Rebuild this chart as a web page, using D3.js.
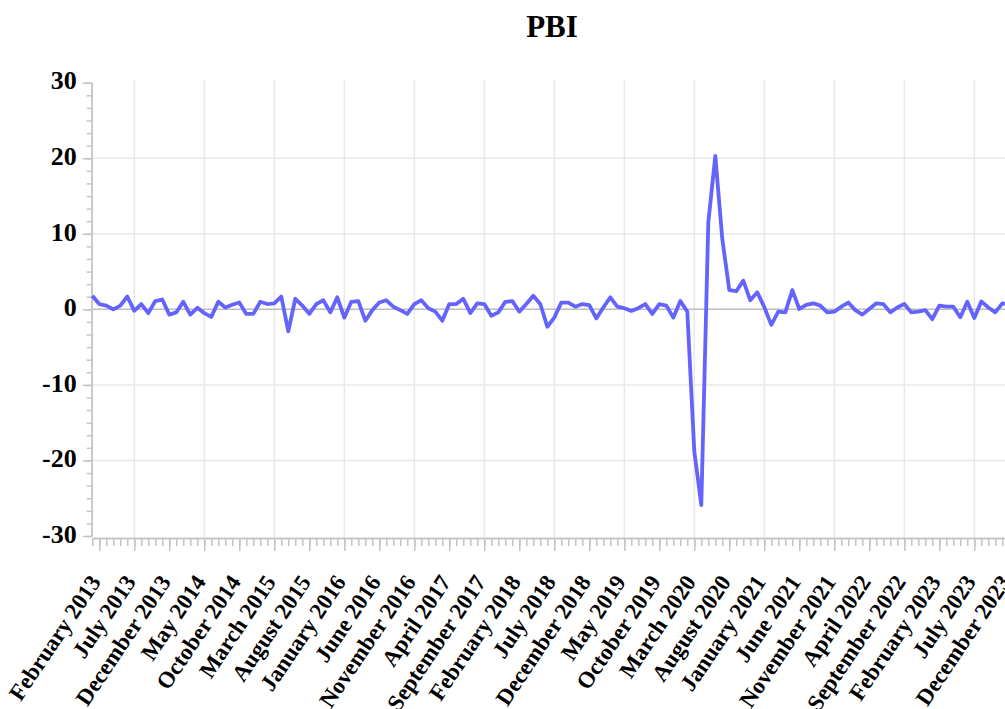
<!DOCTYPE html>
<html>
<head>
<meta charset="utf-8">
<script src="https://cdn.jsdelivr.net/npm/d3@7"></script>
<style>
  body { margin: 0; overflow: hidden; background: #fff; }
  text { font-family: "Liberation Serif", "Times New Roman", serif; font-weight: bold; }
</style>
</head>
<body>
<div id="chart"></div>
<script>

// first month of the series
var startMonth = "2013-01";

// PBI, monthly change
var pbi = [
  1.8, 0.7, 0.5, 0.0, 0.5, 1.7, -0.2, 0.7, -0.5, 1.1, 1.3, -0.7,
  -0.4, 1.0, -0.7, 0.2, -0.5, -1.0, 1.0, 0.25, 0.6, 0.9, -0.6, -0.6,
  1.0, 0.7, 0.8, 1.7, -2.9, 1.4, 0.5, -0.6, 0.7, 1.2, -0.4, 1.6,
  -1.1, 1.0, 1.1, -1.5, -0.1, 0.9, 1.2, 0.35, -0.1, -0.6, 0.7, 1.2,
  0.15, -0.3, -1.5, 0.7, 0.7, 1.4, -0.5, 0.8, 0.7, -0.85, -0.4, 1.0,
  1.1, -0.3, 0.7, 1.8, 0.7, -2.3, -1.1, 0.9, 0.9, 0.35, 0.7, 0.55,
  -1.2, 0.25, 1.6, 0.35, 0.15, -0.2, 0.15, 0.7, -0.6, 0.7, 0.5, -1.1,
  1.1, -0.3, -18.8, -25.9, 11.5, 20.3, 9.3, 2.55, 2.4, 3.8, 1.2, 2.25,
  0.3, -2.05, -0.3, -0.4, 2.55, 0.05, 0.6, 0.8, 0.5, -0.4, -0.3, 0.35,
  0.9, -0.1, -0.7, 0.05, 0.8, 0.7, -0.4, 0.25, 0.7, -0.4, -0.3, -0.1,
  -1.3, 0.5, 0.35, 0.35, -1.05, 1.0, -1.15, 1.05, 0.25, -0.4, 0.8, 0.6
];

// labelled ticks on the x axis
var tickLabels = ["February 2013", "July 2013", "December 2013", "May 2014", "October 2014",
  "March 2015", "August 2015", "January 2016", "June 2016", "November 2016", "April 2017",
  "September 2017", "February 2018", "July 2018", "December 2018", "May 2019", "October 2019",
  "March 2020", "August 2020", "January 2021", "June 2021", "November 2021", "April 2022",
  "September 2022", "February 2023", "July 2023", "December 2023"];

var yTicks = [-30, -20, -10, 0, 10, 20, 30];

var width = 1005, height = 709;

var svg = d3.select("#chart")
  .append("svg")
    .attr("width", width)
    .attr("height", height);

// month categories
var parse = d3.timeParse("%Y-%m"),
    fmt = d3.timeFormat("%B %Y");
var months = pbi.map(function(d, i) { return fmt(d3.timeMonth.offset(parse(startMonth), i)); });

var x0 = 92.3, step = 7;
var x = d3.scalePoint()
  .domain(months)
  .range([x0, x0 + step * (months.length - 1)]);

var y = d3.scaleLinear()
  .domain([-30, 30])
  .range([536, 82.7]);

var axisY = 538;

// grid
svg.append("g")
  .selectAll("line")
  .data(tickLabels.filter(function(d, i) { return i % 2 == 1; }))
  .enter().append("line")
    .attr("x1", function(d) { return x(d); })
    .attr("x2", function(d) { return x(d); })
    .attr("y1", 80)
    .attr("y2", axisY)
    .attr("stroke", "#e8e8e8")
    .attr("stroke-width", 1.5);

svg.append("g")
  .selectAll("line")
  .data(yTicks.filter(function(d) { return Math.abs(d) < 30 && d != 0; }))
  .enter().append("line")
    .attr("x1", 92)
    .attr("x2", width + 20)
    .attr("y1", function(d) { return y(d); })
    .attr("y2", function(d) { return y(d); })
    .attr("stroke", "#e8e8e8")
    .attr("stroke-width", 1.5);

// zero line
svg.append("line")
  .attr("x1", 92)
  .attr("x2", width + 20)
  .attr("y1", y(0))
  .attr("y2", y(0))
  .attr("stroke", "#bdbdbd")
  .attr("stroke-width", 1.5);

// Y axis: minor then major
svg.append("g")
  .attr("class", "axis")
  .attr("transform", "translate(91.7,0)")
  .call(d3.axisLeft(y).tickValues(d3.range(-30, 30.001, 10 / 6)).tickSize(5).tickSizeOuter(0).tickFormat(""));

svg.append("g")
  .attr("class", "axis")
  .attr("transform", "translate(91.7,0)")
  .call(d3.axisLeft(y).tickValues(yTicks).tickSize(9).tickSizeOuter(0).tickPadding(6)
    .tickFormat(function(d) { return String(d); }))
  .selectAll("text")
    .style("font-size", "26px")
    .attr("dy", "0.24em");

// X axis: minor then major
svg.append("g")
  .attr("class", "axis")
  .attr("transform", "translate(0," + axisY + ")")
  .call(d3.axisBottom(x).tickValues(months).tickSize(8).tickSizeOuter(0).tickFormat(""));

svg.append("g")
  .attr("class", "axis")
  .attr("transform", "translate(0," + axisY + ")")
  .call(d3.axisBottom(x).tickValues(tickLabels).tickSize(13).tickSizeOuter(0))
  .selectAll("text")
    .style("font-size", "23px")
    .style("text-anchor", "end")
    .attr("x", 0)
    .attr("y", 0)
    .attr("dy", 0)
    .attr("transform", "translate(2,44) rotate(-56)");

svg.selectAll(".axis path, .axis line")
  .attr("stroke", "#c4c4c4")
  .attr("stroke-width", 1.5);
svg.selectAll(".axis text").attr("fill", "#000");

// the line
svg.append("path")
  .datum(pbi)
  .attr("d", d3.line()
    .x(function(d, i) { return x(months[i]); })
    .y(function(d) { return y(d); })
  )
  .attr("fill", "none")
  .attr("stroke", "#6464fc")
  .attr("stroke-width", 3.8)
  .attr("stroke-linejoin", "round");

// title
svg.append("text")
  .attr("x", 552)
  .attr("y", 37)
  .attr("text-anchor", "middle")
  .style("font-size", "31px")
  .text("PBI");

</script>
</body>
</html>
